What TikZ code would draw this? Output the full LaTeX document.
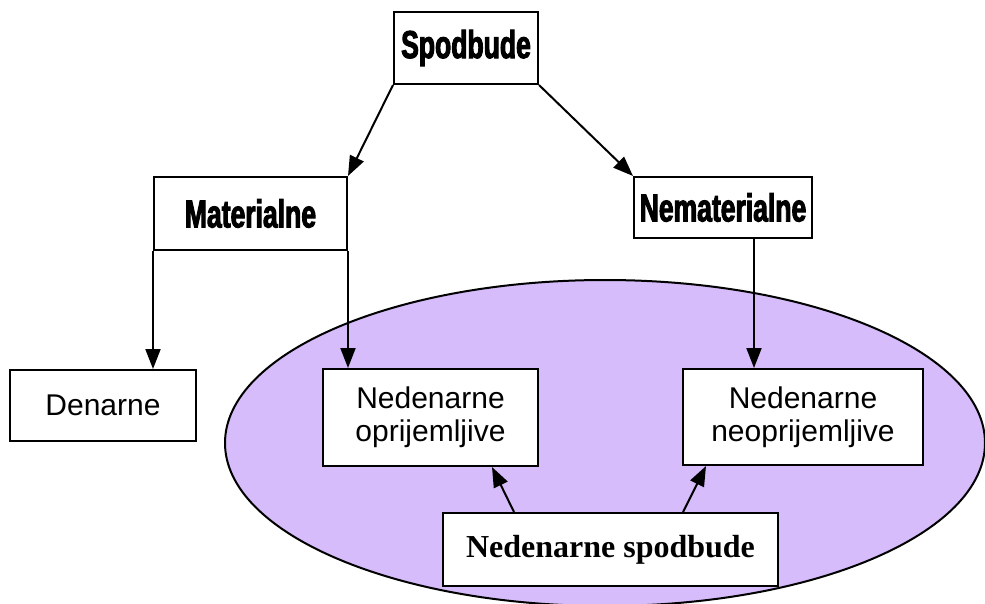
\documentclass[tikz,border=0pt]{standalone}
\usepackage{fontspec}
\setmainfont{Liberation Sans}
\newfontfamily\headfont{Liberation Sans}[FakeStretch=0.68,FakeBold=2.5]
\newfontfamily\timesfont{Liberation Serif}
\usetikzlibrary{arrows.meta,positioning,calc}
\definecolor{lilac}{RGB}{214,188,250}

\begin{document}
\begin{tikzpicture}[x=1pt, y=-1pt,
  hd/.style={draw, line width=2pt, fill=white, inner sep=0pt, font=\headfont\bfseries\fontsize{39}{43}\selectfont},
  bx/.style={draw, line width=2pt, fill=white, inner sep=0pt, align=center, font=\fontsize{30}{33}\selectfont},
  ar/.style={line width=2pt, -{Triangle[length=20pt,width=15pt]}}
]
  \useasboundingbox (0,0) rectangle (985,603);
  % non-monetary area
  \draw[line width=2pt, fill=lilac] (605,443) ellipse [x radius=380pt, y radius=163pt];
  % top levels
  \node[hd, minimum width=144pt, minimum height=72pt] (spod) at (466,48) {Spodbude};
  \node[hd, minimum width=193pt, minimum height=73pt] (mat) at (250.5,213.5) {Materialne};
  \node[hd, minimum width=178pt, minimum height=61pt] (nemat) at (723,207.5) {Nematerialne};
  % bottom boxes
  \node[bx, minimum width=186pt, minimum height=71pt] (den) at (103,405.5) {Denarne};
  \node[bx, minimum width=215pt, minimum height=97pt] (opr) at (430.5,417.5) {Nedenarne\\oprijemljive};
  \node[bx, minimum width=240pt, minimum height=96pt] (neopr) at (803,417) {Nedenarne\\neoprijemljive};
  \node[bx, minimum width=335pt, minimum height=73pt, font=\timesfont\bfseries\fontsize{32}{36}\selectfont] (nsp) at (610.5,549.5) {Nedenarne spodbude};
  % connectors
  \draw[ar] (spod.south west) -- (mat.north east);
  \draw[ar] (spod.south east) -- (nemat.north west);
  \draw[ar] (mat.south west) -- (mat.south west |- den.north);
  \draw[ar] (mat.south east) -- (mat.south east |- opr.north);
  \draw[ar] ([xshift=31pt]nemat.south) -- ([xshift=31pt]nemat.south |- neopr.north);
  \draw[ar] ([xshift=-96.5pt]nsp.north) -- ([xshift=61.5pt]opr.south);
  \draw[ar] ([xshift=72.5pt]nsp.north) -- ([xshift=-97pt]neopr.south);
\end{tikzpicture}
\end{document}
